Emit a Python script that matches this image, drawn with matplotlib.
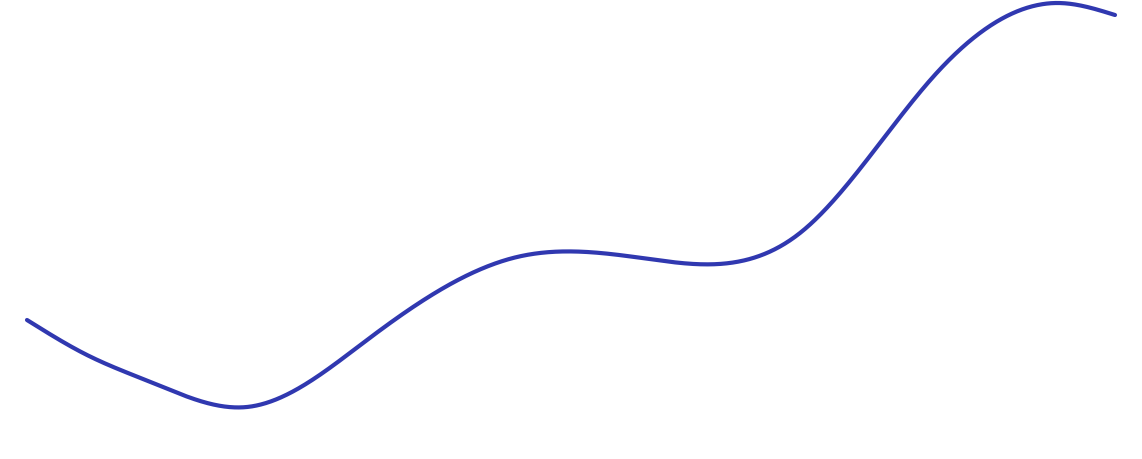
import numpy as np
import matplotlib.pyplot as plt

# points (x, value)
x_pts = [27, 87, 153, 247, 367, 517, 649, 800, 933, 1058, 1115]
y_pts = [139, 104, 76, 52, 119, 202, 200, 226, 382, 456, 444]


def natural_spline(x, y, xs):
    x = np.asarray(x, float)
    y = np.asarray(y, float)
    n = len(x)
    h = np.diff(x)
    A = np.zeros((n, n))
    b = np.zeros(n)
    A[0, 0] = A[-1, -1] = 1
    for i in range(1, n - 1):
        A[i, i - 1] = h[i - 1]
        A[i, i] = 2 * (h[i - 1] + h[i])
        A[i, i + 1] = h[i]
        b[i] = 6 * ((y[i + 1] - y[i]) / h[i] - (y[i] - y[i - 1]) / h[i - 1])
    M = np.linalg.solve(A, b)
    idx = np.clip(np.searchsorted(x, xs) - 1, 0, n - 2)
    hi = h[idx]
    a = x[idx + 1] - xs
    c = xs - x[idx]
    return (M[idx] * a**3 / (6 * hi) + M[idx + 1] * c**3 / (6 * hi)
            + (y[idx] / hi - M[idx] * hi / 6) * a
            + (y[idx + 1] / hi - M[idx + 1] * hi / 6) * c)


xs = np.linspace(x_pts[0], x_pts[-1], 1500)
ys = natural_spline(x_pts, y_pts, xs)

fig = plt.figure(figsize=(11.42, 4.59), dpi=100)
ax = fig.add_axes([0, 0, 1, 1])
ax.plot(xs, ys, color='#3038b0', linewidth=3, solid_capstyle='round')
ax.set_xlim(0, 1142)
ax.set_ylim(0, 459)
ax.axis('off')
fig.savefig('out.png', dpi=100)
